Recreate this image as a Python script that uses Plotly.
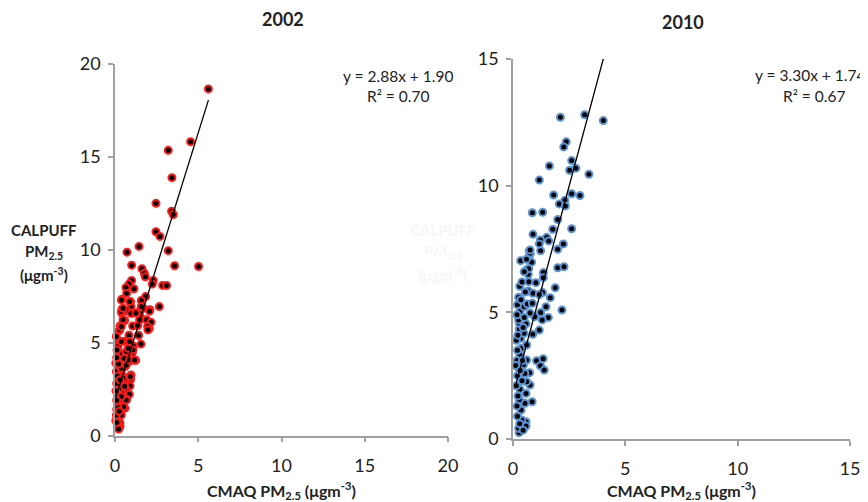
import plotly.graph_objects as go

# ---------------- data ----------------
x_2002 = [5.61, 4.54, 3.20, 3.42, 2.46, 3.40, 3.50, 2.46, 2.70, 1.44, 0.72, 3.20, 1.00, 3.58, 5.02,
          1.62, 1.76, 1.82, 2.30, 2.24, 2.86, 3.10, 1.00, 0.84, 0.66, 1.14, 0.70, 0.42, 0.94, 1.84,
          1.58, 2.66, 2.10, 0.96, 0.42, 0.70, 0.40, 1.10, 1.50, 1.70, 1.54, 1.90, 2.16, 0.58, 2.06,
          1.96, 0.30, 0.26, 1.06, 1.36, 0.84, 1.42, 0.26, 1.56, 0.60, 1.10, 0.86, 0.20, 1.04, 0.80,
          0.24, 1.24, 0.96, 0.46, 0.16, 0.60, 0.36, 0.96, 0.46, 0.94, 0.20, 0.56, 0.90, 0.30, 0.66,
          0.40, 0.86, 0.14, 0.70, 0.30, 0.46, 0.60, 0.10, 0.34, 0.20, 0.30, 0.30, 0.14,
          0.18, 0.38, 0.52, 0.18, 0.68, 0.38, 0.28, 0.58, 0.48, 0.92, 0.08, 0.38, 0.68, 0.18, 0.54,
          0.88, 1.18, 0.28, 0.68, 1.08, 0.18, 0.80, 0.38, 0.88, 0.08, 0.28, 0.38, 1.98, 0.48, 1.48,
          0.38, 0.96, 1.26, 2.08, 1.58, 0.48, 0.88, 0.38,
          0.05, 0.08, 0.06, 0.10, 0.05, 0.12, 0.10, 0.12, 0.22, 0.25, 0.15, 0.22, 0.30, 0.10]
y_2002 = [18.66, 15.82, 15.35, 13.88, 12.50, 12.07, 11.90, 10.97, 10.72, 10.18, 9.87, 9.95, 9.17, 9.14, 9.10,
          8.98, 8.74, 8.54, 8.35, 8.15, 8.08, 8.08, 8.35, 8.15, 7.97, 7.90, 7.66, 7.34, 7.21, 7.48,
          7.27, 6.94, 6.77, 6.94, 6.80, 6.73, 6.59, 6.59, 6.71, 6.86, 6.37, 6.23, 6.10, 6.19, 5.76,
          5.87, 5.90, 5.65, 5.89, 5.92, 5.40, 5.40, 5.04, 4.92, 5.08, 4.82, 4.66, 4.43, 4.47, 4.25,
          4.25, 4.05, 4.03, 3.96, 3.71, 3.71, 3.48, 3.26, 3.22, 3.03, 2.99, 2.90, 2.67, 2.60, 2.49,
          2.31, 2.22, 2.18, 1.95, 1.88, 1.59, 1.47, 1.41, 1.20, 0.93, 0.66, 0.48, 1.70,
          0.55, 1.10, 1.55, 1.49, 1.91, 2.10, 2.54, 2.65, 3.08, 3.17, 3.44, 3.62, 3.80, 4.07, 4.16,
          4.07, 4.07, 4.43, 4.52, 4.61, 4.79, 4.70, 5.06, 5.06, 5.33, 5.69, 5.87, 5.69, 6.23, 6.23,
          6.67, 6.58, 6.60, 6.70, 6.95, 6.85, 7.21, 7.30,
          0.80, 1.10, 2.40, 2.80, 3.90, 4.60, 1.90, 0.70, 0.35, 1.30, 3.20, 3.85, 3.00, 4.20]

x_2010 = [2.11, 3.19, 4.02, 2.37, 2.26, 2.61, 1.62, 2.80, 2.52, 3.38, 1.17, 1.81, 2.61, 2.98, 2.31,
          2.06, 2.33, 0.86, 1.32, 1.99, 1.77, 2.61, 0.89, 1.50, 1.22, 1.59, 1.17, 2.24, 0.73, 1.99,
          1.23, 0.76, 0.34, 0.83, 0.65, 1.99, 2.27, 1.35, 0.68, 1.35, 0.70, 1.02, 0.30, 1.88, 0.68,
          0.89, 1.32, 1.17, 1.66, 2.18, 1.57, 1.23, 1.47, 1.17, 0.88, 1.30, 0.97, 1.05, 1.34, 1.22,
          1.39, 0.61, 0.74, 0.76, 0.85, 0.58, 0.58, 0.27, 0.25, 0.39, 0.36, 0.53, 0.28, 0.31, 0.61,
          0.58, 0.53, 0.46, 0.31, 0.36, 0.61, 0.34, 0.49, 0.28, 0.28, 0.58, 0.25, 0.31, 0.49, 0.76,
          0.64, 0.86, 0.70, 0.76, 0.76,
          0.20, 0.18, 0.22, 0.15, 0.20, 0.25, 0.18, 0.20, 0.15, 0.22, 0.18, 0.20, 0.25, 0.35, 0.40,
          0.42, 0.45, 0.12, 0.30, 0.45, 0.40, 0.50, 0.60, 0.55, 0.50, 0.32]
y_2010 = [12.70, 12.80, 12.57, 11.73, 11.53, 10.99, 10.78, 10.69, 10.61, 10.45, 10.22, 9.63, 9.68, 9.61, 9.42,
          9.28, 9.20, 8.93, 8.95, 8.66, 8.28, 8.30, 8.08, 7.96, 7.86, 7.82, 7.70, 7.70, 7.43, 7.49,
          7.43, 7.29, 7.04, 6.98, 6.71, 6.76, 6.80, 6.57, 6.50, 6.37, 6.21, 6.17, 6.03, 5.97, 5.84,
          5.75, 5.78, 5.70, 5.58, 5.09, 4.80, 4.99, 5.22, 4.30, 4.13, 4.70, 4.83, 3.09, 3.17, 2.89,
          2.72, 3.12, 2.62, 2.13, 1.47, 0.68, 0.51, 0.25, 0.42, 0.75, 1.14, 1.41, 1.55, 1.96, 2.26,
          1.80, 2.59, 2.92, 3.32, 3.58, 3.71, 3.97, 4.17, 4.34, 4.57, 4.55, 4.70, 5.03, 5.22, 4.97,
          5.33, 5.36, 6.72, 7.33, 7.46,
          0.90, 1.30, 1.70, 2.10, 2.50, 2.80, 3.10, 3.50, 3.90, 4.10, 4.90, 5.30, 5.60, 5.50, 2.30,
          3.10, 4.40, 2.90, 0.60, 0.35, 6.20, 6.60, 7.10, 5.80, 4.80, 2.70]

slope_2002, intercept_2002, r2_2002 = 2.88, 1.90, 0.70
slope_2010, intercept_2010, r2_2010 = 3.30, 1.74, 0.67

x_ticks_2002 = [0, 5, 10, 15, 20]
y_ticks_2002 = [0, 5, 10, 15, 20]
ticks_2010 = [0, 5, 10, 15]

titles = ["2002", "2010"]

# ---------------- figure ----------------
# the page body has an 8px margin, so the figure starts 8px into the window;
# positions below are given in window pixels and shifted by that offset
OFF = 8
W, H = 868 - OFF, 502 - OFF
FONT = "Lato, 'Open Sans', sans-serif"


def px(x):
    return (x - OFF) / W


def py(y):
    return 1 - (y - OFF) / H


fig = go.Figure()

fig.add_trace(go.Scatter(
    x=x_2002, y=y_2002, mode="markers", xaxis="x", yaxis="y",
    marker=dict(size=7, color="black", line=dict(color="#ff1a1a", width=2)),
    cliponaxis=False, showlegend=False))
fig.add_trace(go.Scatter(
    x=x_2010, y=y_2010, mode="markers", xaxis="x2", yaxis="y2",
    marker=dict(size=7, color="black", line=dict(color="#5b93d3", width=2)),
    cliponaxis=False, showlegend=False))

# trendlines from the regression coefficients over the data range
for xs, m, b, xa, ya in [(x_2002, slope_2002, intercept_2002, "x", "y"),
                         (x_2010, slope_2010, intercept_2010, "x2", "y2")]:
    x0, x1 = min(xs), max(xs)
    fig.add_trace(go.Scatter(
        x=[x0, x1], y=[m * x0 + b, m * x1 + b], mode="lines", xaxis=xa, yaxis=ya,
        line=dict(color="black", width=1.3), showlegend=False, hoverinfo="skip"))

axis_common = dict(
    showgrid=False, zeroline=False, showline=True, linecolor="#a0a0a0", linewidth=1.5,
    ticks="outside", ticklen=5, tickwidth=1.5, tickcolor="#a0a0a0", automargin=False,
    tickfont=dict(family=FONT, size=18, color="#222"),
)

fig.update_layout(
    width=W, height=H,
    margin=dict(l=0, r=0, t=0, b=0, pad=0, autoexpand=False),
    paper_bgcolor="white", plot_bgcolor="white",
    xaxis=dict(domain=[px(115), px(448)], range=[0, 20], tickvals=x_ticks_2002,
               anchor="y", ticklabelstandoff=8, **axis_common),
    yaxis=dict(domain=[py(435.5), py(64)], range=[0, 20], tickvals=y_ticks_2002,
               anchor="x", ticklabelstandoff=4, **axis_common),
    xaxis2=dict(domain=[px(513), px(850)], range=[0, 15], tickvals=ticks_2010,
                anchor="y2", ticklabelstandoff=8, **axis_common),
    yaxis2=dict(domain=[py(439), py(59)], range=[0, 15], tickvals=ticks_2010,
                anchor="x2", ticklabelstandoff=4, **axis_common),
)

ann = []


def add_text(text, x, y, size, bold=False, color="#222", xanchor="center"):
    t = f"<b>{text}</b>" if bold else text
    ann.append(dict(text=t, x=px(x), y=py(y), xref="paper", yref="paper",
                    xanchor=xanchor, yanchor="middle", showarrow=False,
                    font=dict(family=FONT, size=size, color=color)))


# panel titles
add_text(titles[0], 283, 19, 18, bold=True)
add_text(titles[1], 683, 22, 18, bold=True)

# x-axis titles
xlabel = "CMAQ PM<sub>2.5</sub> (μgm<sup>-3</sup>)"
add_text(xlabel, 281, 490, 16, bold=True)
add_text(xlabel, 681, 490, 16, bold=True)

# y-axis label (left) and faint white copy (right)
for cx, col in [(44, "#222"), (443, "#f6f6f6")]:
    add_text("CALPUFF", cx, 230, 15, bold=True, color=col)
    add_text("PM<sub>2.5</sub>", cx, 252, 15, bold=True, color=col)
    add_text("(μgm<sup>-3</sup>)", cx, 274, 15, bold=True, color=col)

# regression equations
add_text(f"y = {slope_2002:.2f}x + {intercept_2002:.2f}", 398, 76, 15.5)
add_text(f"R² = {r2_2002:.2f}", 398, 96, 15.5)
add_text(f"y = {slope_2010:.2f}x + {intercept_2010:.2f}", 810, 75, 15.5)
add_text(f"R² = {r2_2010:.2f}", 814, 96, 15.5)

fig.update_layout(annotations=ann)

fig.write_html("out.html")
